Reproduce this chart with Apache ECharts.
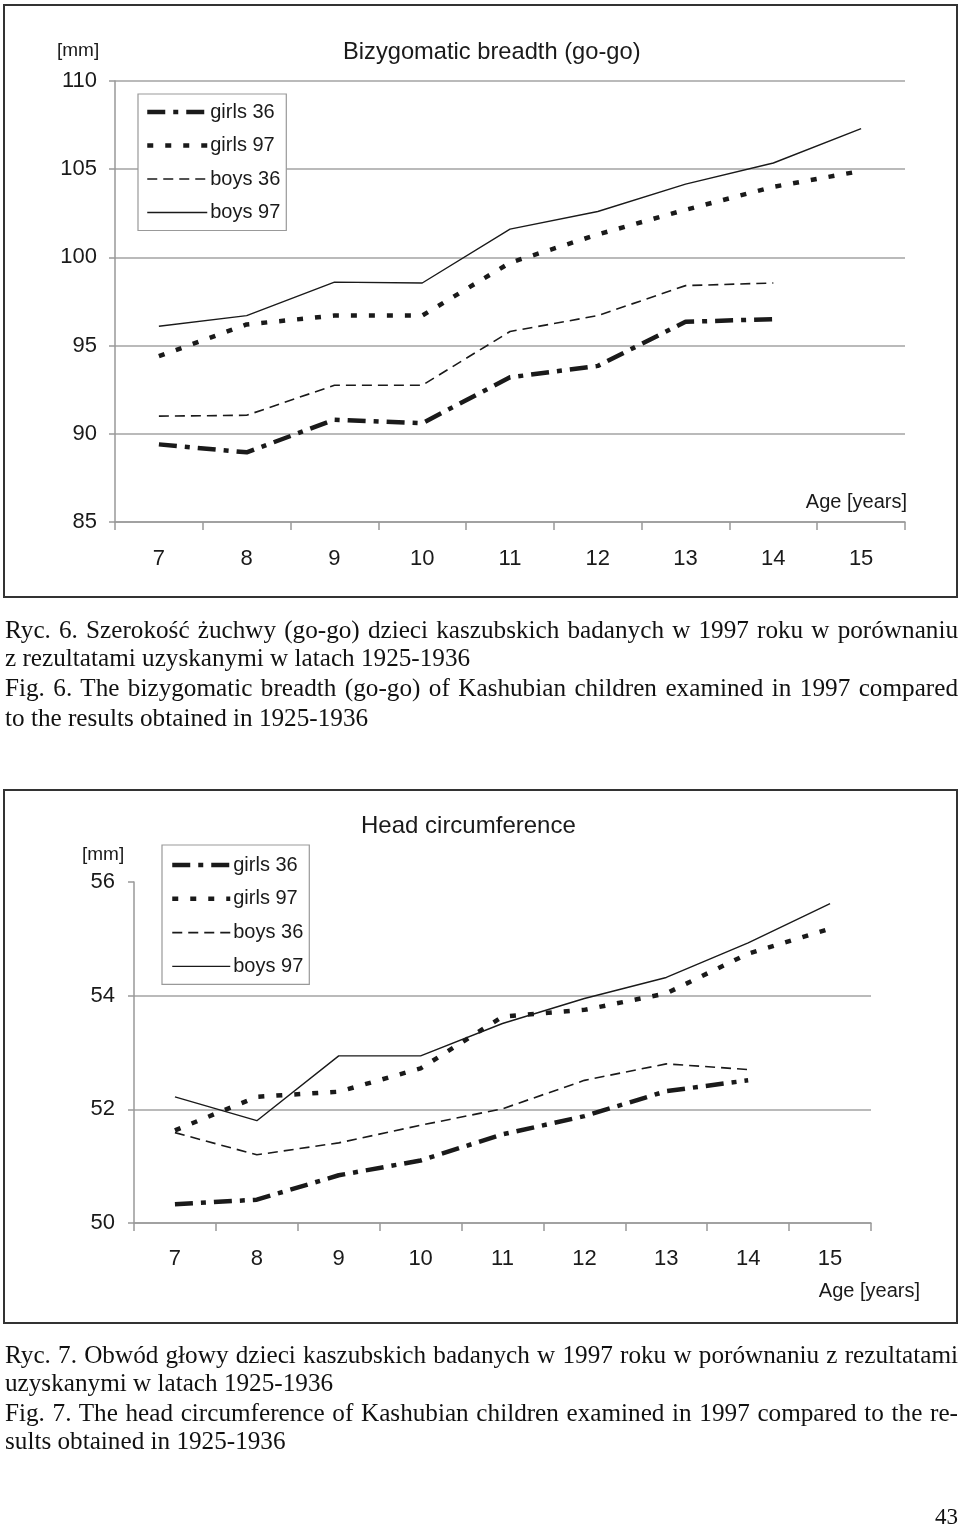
<!DOCTYPE html>
<html>
<head>
<meta charset="utf-8">
<script src="https://cdn.jsdelivr.net/npm/echarts@6/dist/echarts.min.js"></script>
<style>
  html, body { margin: 0; padding: 0; background: #fff; }
  body { width: 960px; height: 1530px; position: relative; overflow: hidden; }
  #chart { position: absolute; left: 0; top: 0; width: 960px; height: 1530px; }
  .box { position: absolute; border: 2px solid #333; box-sizing: border-box; pointer-events: none; }
  .cap { position: absolute; left: 5px; width: 953px; font-family: "Liberation Serif", "Times New Roman", serif;
         font-size: 25.2px; line-height: 28px; color: #111; white-space: nowrap; }
  .just { text-align: justify; text-align-last: justify; white-space: normal; }
  .pg { position: absolute; right: 2px; top: 1504px; font-family: "Liberation Serif", serif; font-size: 23px; color: #111; }
</style>
</head>
<body>
<div id="chart"></div>
<div class="box" style="left:3px;top:4px;width:955px;height:594px;"></div>
<div class="box" style="left:3px;top:789px;width:955px;height:535px;"></div>

<div class="cap just" style="top:616px;">Ryc. 6. Szerokość żuchwy (go-go) dzieci kaszubskich badanych w 1997 roku w porównaniu</div>
<div class="cap" style="top:644px;">z rezultatami uzyskanymi w latach 1925-1936</div>
<div class="cap just" style="top:674px;">Fig. 6. The bizygomatic breadth (go-go) of Kashubian children examined in 1997 compared</div>
<div class="cap" style="top:704px;">to the results obtained in 1925-1936</div>

<div class="cap just" style="top:1341px;">Ryc. 7. Obwód głowy dzieci kaszubskich badanych w 1997 roku w porównaniu z rezultatami</div>
<div class="cap" style="top:1369px;">uzyskanymi w latach 1925-1936</div>
<div class="cap just" style="top:1399px;">Fig. 7. The head circumference of Kashubian children examined in 1997 compared to the re-</div>
<div class="cap" style="top:1427px;">sults obtained in 1925-1936</div>

<div class="pg">43</div>

<script>
// ---- data ----
const ages = ['7', '8', '9', '10', '11', '12', '13', '14', '15'];
const seriesNames = ['girls 36', 'girls 97', 'boys 36', 'boys 97'];

// Chart 1: Bizygomatic breadth (go-go) [mm]
const bizGirls36 = [89.4, 88.95, 90.8, 90.6, 93.2, 93.85, 96.35, 96.5, null];
const bizGirls97 = [94.4, 96.2, 96.7, 96.7, 99.7, 101.3, 102.7, 104.0, 104.9];
const bizBoys36  = [91.0, 91.05, 92.75, 92.75, 95.8, 96.7, 98.4, 98.55, null];
const bizBoys97  = [96.1, 96.7, 98.6, 98.55, 101.6, 102.6, 104.15, 105.35, 107.3];

// Chart 2: Head circumference [mm]
const headGirls36 = [50.33, 50.41, 50.84, 51.1, 51.56, 51.88, 52.32, 52.51, null];
const headGirls97 = [51.63, 52.22, 52.31, 52.72, 53.63, 53.75, 54.04, 54.74, 55.18];
const headBoys36  = [51.59, 51.2, 51.41, 51.72, 52.01, 52.51, 52.8, 52.7, null];
const headBoys97  = [52.22, 51.8, 52.94, 52.94, 53.51, 53.95, 54.32, 54.93, 55.62];

// ---- styles ----
const FONT = '"Liberation Sans", Arial, sans-serif';
const INK = '#1a1a1a';
const GRID_C = '#a3a3a3';
const styles = {
  'girls 36': { width: 4.5, type: [18, 8, 5, 8] },
  'girls 97': { width: 4.5, type: [6, 12] },
  'boys 36':  { width: 1.6, type: [10, 6] },
  'boys 97':  { width: 1.4, type: 'solid' }
};

function mkSeries(name, data, idx) {
  return {
    name: name, type: 'line', data: data,
    xAxisIndex: idx, yAxisIndex: idx,
    symbol: 'none', showSymbol: false, connectNulls: false, smooth: false,
    lineStyle: { color: INK, width: styles[name].width, type: styles[name].type, cap: 'butt' },
    itemStyle: { color: INK },
    emphasis: { disabled: true },
    animation: false
  };
}

function xAxis(idx, margin) {
  return {
    type: 'category', gridIndex: idx, data: ages, boundaryGap: true,
    axisLine: { show: true, lineStyle: { color: '#999', width: 1.5 } },
    axisTick: { show: true, length: 8, alignWithLabel: false, lineStyle: { color: '#999', width: 1.5 } },
    axisLabel: { color: INK, fontSize: 22, fontFamily: FONT, margin: margin },
    splitLine: { show: false }
  };
}

function legend(left, top, gap, padding, itemWidth) {
  return {
    data: seriesNames, orient: 'vertical', left: left, top: top,
    itemWidth: itemWidth, itemHeight: 14, itemGap: gap,
    padding: padding,
    backgroundColor: '#fff', borderColor: '#999', borderWidth: 1.2,
    itemStyle: { opacity: 0, color: 'rgba(0,0,0,0)', borderColor: 'rgba(0,0,0,0)', borderWidth: 0 },
    lineStyle: { width: 'inherit', type: 'inherit', color: 'inherit', cap: 'butt' },
    textStyle: { color: INK, fontSize: 20, fontFamily: FONT, padding: [0, 0, 0, -2] },
    selectedMode: false
  };
}

const chart = echarts.init(document.getElementById('chart'), null, { renderer: 'canvas' });

const option = {
  animation: false,
  backgroundColor: 'transparent',
  grid: [
    { left: 115, right: 55, top: 81, bottom: 1008, containLabel: false },
    { left: 134, right: 89, top: 882, bottom: 307, containLabel: false }
  ],
  xAxis: [xAxis(0, 26), xAxis(1, 25)],
  yAxis: [
    {
      type: 'value', gridIndex: 0, min: 85, max: 110, interval: 5,
      axisLine: { show: true, lineStyle: { color: '#999', width: 1.5 } },
      axisTick: { show: true, length: 6, lineStyle: { color: '#999', width: 1.5 } },
      axisLabel: { color: INK, fontSize: 22, fontFamily: FONT, margin: 18 },
      splitLine: { show: true, lineStyle: { color: GRID_C, width: 1.5 } }
    },
    {
      type: 'value', gridIndex: 1, min: 50, max: 56, interval: 2,
      axisLine: { show: true, lineStyle: { color: '#999', width: 1.5 } },
      axisTick: { show: true, length: 6, lineStyle: { color: '#999', width: 1.5 } },
      axisLabel: { color: INK, fontSize: 22, fontFamily: FONT, margin: 19 },
      splitLine: { show: true, lineStyle: { color: [GRID_C, GRID_C, GRID_C, 'rgba(0,0,0,0)'], width: 1.5 } }
    }
  ],
  legend: [
    legend(138, 94, 13.5, [8, 6, 8, 7], 60),
    legend(162, 845, 13.8, [10, 6, 8, 8], 58)
  ],
  graphic: [
    { type: 'text', left: 343, top: 40, style: { text: 'Bizygomatic breadth (go-go)', font: '23.7px ' + FONT, fill: INK } },
    { type: 'text', left: 57, top: 41, style: { text: '[mm]', font: '19px ' + FONT, fill: INK } },
    { type: 'text', right: 53, top: 492, style: { text: 'Age [years]', font: '20px ' + FONT, fill: INK } },
    { type: 'text', left: 361, top: 814, style: { text: 'Head circumference', font: '24px ' + FONT, fill: INK } },
    { type: 'text', left: 82, top: 845, style: { text: '[mm]', font: '19px ' + FONT, fill: INK } },
    { type: 'text', right: 40, top: 1281, style: { text: 'Age [years]', font: '20px ' + FONT, fill: INK } }
  ],
  series: [
    mkSeries('girls 36', bizGirls36, 0),
    mkSeries('girls 97', bizGirls97, 0),
    mkSeries('boys 36', bizBoys36, 0),
    mkSeries('boys 97', bizBoys97, 0),
    mkSeries('girls 36', headGirls36, 1),
    mkSeries('girls 97', headGirls97, 1),
    mkSeries('boys 36', headBoys36, 1),
    mkSeries('boys 97', headBoys97, 1)
  ]
};
chart.setOption(option);
</script>
</body>
</html>
